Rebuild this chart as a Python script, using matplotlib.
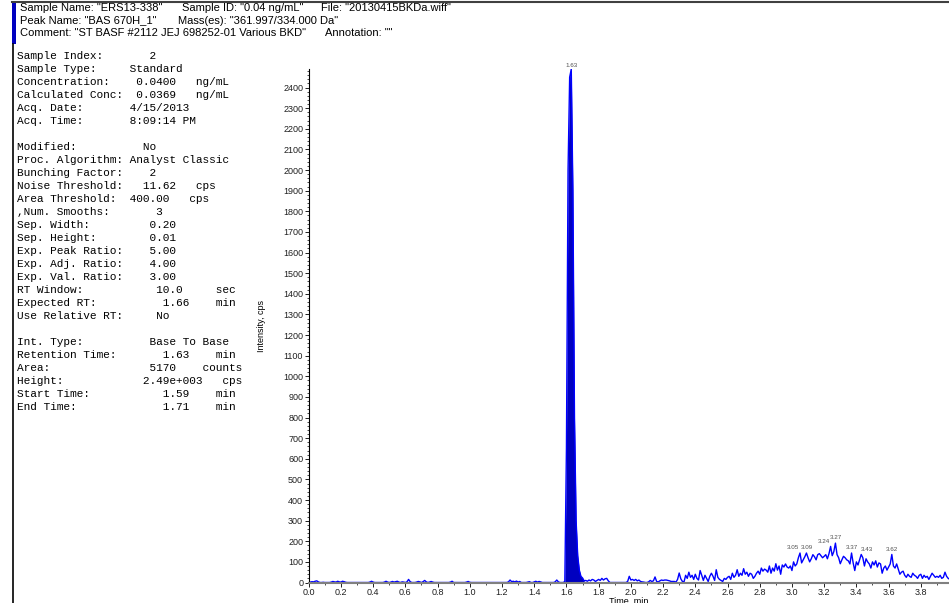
import numpy as np
import matplotlib.pyplot as plt
from matplotlib.lines import Line2D
from matplotlib.patches import Rectangle
from matplotlib.ticker import MultipleLocator

# header fields: (text, x px, line)
header_fields = [
    ('Sample Name: "ERS13-338"', 20, 0),
    ('Sample ID: "0.04 ng/mL"', 182, 0),
    ('File: "20130415BKDa.wiff"', 321, 0),
    ('Peak Name: "BAS 670H_1"', 20, 1),
    ('Mass(es): "361.997/334.000 Da"', 178, 1),
    ('Comment: "ST BASF #2112 JEJ 698252-01 Various BKD"', 20, 2),
    ('Annotation: ""', 325, 2),
]

info_rows = [
    "Sample Index:       2",
    "Sample Type:     Standard",
    "Concentration:    0.0400   ng/mL",
    "Calculated Conc:  0.0369   ng/mL",
    "Acq. Date:       4/15/2013",
    "Acq. Time:       8:09:14 PM",
    "",
    "Modified:          No",
    "Proc. Algorithm: Analyst Classic",
    "Bunching Factor:    2",
    "Noise Threshold:   11.62   cps",
    "Area Threshold:  400.00   cps",
    ",Num. Smooths:       3",
    "Sep. Width:         0.20",
    "Sep. Height:        0.01",
    "Exp. Peak Ratio:    5.00",
    "Exp. Adj. Ratio:    4.00",
    "Exp. Val. Ratio:    3.00",
    "RT Window:           10.0     sec",
    "Expected RT:          1.66    min",
    "Use Relative RT:     No",
    "",
    "Int. Type:          Base To Base",
    "Retention Time:       1.63    min",
    "Area:               5170    counts",
    "Height:            2.49e+003   cps",
    "Start Time:           1.59    min",
    "End Time:             1.71    min",
]

# chromatogram, one point every 0.01 min from 0.00
time_step = 0.01
intensity = [
    0, 2, 4, 3, 6, 8, 3, 0, 0, 1,
    0, 0, 0, 0, 2, 5, 3, 2, 6, 3,
    2, 6, 4, 1, 0, 0, 0, 0, 0, 0,
    0, 0, 0, 0, 0, 0, 0, 0, 2, 6,
    2, 0, 0, 0, 0, 0, 0, 2, 6, 2,
    0, 2, 5, 2, 4, 6, 2, 0, 3, 2,
    0, 3, 15, 4, 0, 0, 0, 2, 5, 3,
    0, 4, 10, 3, 0, 2, 5, 2, 0, 0,
    0, 0, 0, 0, 0, 0, 0, 0, 2, 6,
    0, 0, 0, 0, 0, 0, 0, 0, 2, 5,
    1, 0, 0, 0, 0, 0, 0, 0, 0, 0,
    0, 0, 0, 0, 0, 0, 0, 0, 0, 0,
    0, 0, 0, 0, 3, 12, 4, 6, 3, 7,
    2, 5, 0, 0, 0, 0, 2, 4, 0, 0,
    3, 6, 2, 5, 3, 0, 0, 0, 0, 0,
    0, 0, 0, 3, 12, 3, 0, 0, 0, 5,
    650, 2000, 2450, 2490, 1900, 800, 300, 130, 60, 30,
    22, 8, 10, 6, 12, 8, 15, 12, 5, 10,
    15, 10, 20, 12, 18, 20, 8, 0, 0, 0,
    0, 0, 0, 0, 0, 0, 0, 0, 5, 30,
    12, 15, 10, 15, 8, 12, 5, 3, 2, 0,
    0, 3, 10, 5, 8, 27, 5, 3, 8, 12,
    10, 12, 12, 10, 8, 5, 5, 5, 2, 15,
    46, 18, 5, 3, 35, 20, 50, 25, 35, 15,
    40, 20, 12, 58, 35, 10, 35, 20, 5, 30,
    45, 30, 10, 62, 25, 15, 10, 5, 20, 15,
    25, 30, 15, 45, 25, 35, 62, 30, 45, 35,
    67, 40, 50, 30, 45, 40, 20, 30, 45, 55,
    40, 70, 55, 65, 60, 50, 80, 45, 70, 55,
    91, 60, 80, 40, 85, 75, 90, 75, 70, 80,
    58, 100, 80, 90, 120, 143, 95, 110, 125, 143,
    120, 100, 115, 135, 125, 110, 135, 140, 130, 120,
    127, 135, 115, 140, 175, 130, 150, 191, 135, 120,
    91, 110, 127, 120, 110, 105, 90, 143, 95, 58,
    100, 85, 110, 136, 120, 80, 115, 100, 90, 70,
    100, 85, 105, 75, 95, 90, 45, 70, 80, 60,
    75, 90, 136, 80, 70, 90, 65, 40, 50, 55,
    35, 25, 40, 30, 25, 45, 35, 30, 20, 35,
    40, 20, 35, 25, 30, 15, 30, 45, 35, 25,
    30, 25, 35, 20, 25, 50, 30, 20, 15, 35,
]

peak_start = 1.59
peak_end = 1.71
peak_labels = ["1.63", "3.05", "3.09", "3.24", "3.27", "3.37", "3.43", "3.62"]
label_shift = [(0, 1), (-5, 2), (0, 2), (-5, 2), (0, 2), (0, 2), (4, 2), (0, 2)]

W, H = 949, 603


def px(x, y):
    return x / W, 1 - y / H


fig = plt.figure(figsize=(W / 100, H / 100), dpi=100)

# header block
for text, x, line in header_fields:
    fig.text(*px(x, 8 + 12.5 * line), text, fontsize=8, family="Liberation Sans",
             va="center", ha="left")
fig.add_artist(Line2D([12 / W, 1], [1 - 1.5 / H, 1 - 1.5 / H], color="#404040", lw=1.5))
fig.add_artist(Rectangle(px(12, 44), 3.5 / W, 42 / H, color="#0000c0", lw=0))
fig.add_artist(Line2D([13 / W, 13 / W], [0, 1 - 44 / H], color="black", lw=1.2))

# sample / method info
for i, row in enumerate(info_rows):
    fig.text(*px(17, 56 + 13.0 * i), row, fontsize=8, family="Liberation Mono",
             va="center", ha="left")

ax = fig.add_axes([308.7 / W, 20.5 / H, 1 - 308.7 / W, (582.5 - 69) / H])

t = np.round(np.arange(len(intensity)) * time_step, 2)
y = np.array(intensity, dtype=float)

ax.fill_between(t, y, where=(t >= peak_start) & (t <= peak_end), color="#0000c0", lw=0)
ax.plot(t, y, color="#0000ff", lw=1)

for lab, (dx, dy) in zip(peak_labels, label_shift):
    i = int(round(float(lab) / time_step))
    ax.annotate(lab, (t[i], y[i]), xytext=(dx, dy), textcoords="offset points",
                fontsize=4.5, color="#505050", ha="center", va="bottom",
                family="Liberation Sans", annotation_clip=False)

ax.set_xlim(0, 3.975)
ax.set_ylim(0, 2490)
ax.xaxis.set_major_locator(MultipleLocator(0.2))
ax.xaxis.set_minor_locator(MultipleLocator(0.1))
ax.yaxis.set_major_locator(MultipleLocator(100))
ax.yaxis.set_minor_locator(MultipleLocator(20))
ax.xaxis.set_major_formatter(lambda v, p: f"{v:.1f}")

for s in ["top", "right"]:
    ax.spines[s].set_visible(False)
ax.spines["left"].set_linewidth(0.8)
ax.spines["bottom"].set_color("#808080")
ax.spines["bottom"].set_linewidth(1.5)

ax.tick_params(which="major", length=3, width=0.7, labelsize=6.5, pad=1, colors="#202020")
ax.tick_params(which="minor", length=1.5, width=0.5)
for lab in ax.get_xticklabels() + ax.get_yticklabels():
    lab.set_family("Liberation Sans")

ax.set_ylabel("Intensity, cps", fontsize=6.5, family="Liberation Sans", labelpad=12)
ax.set_xlabel("Time, min", fontsize=6.5, family="Liberation Sans", labelpad=0)

fig.savefig("out.png", dpi=100)
